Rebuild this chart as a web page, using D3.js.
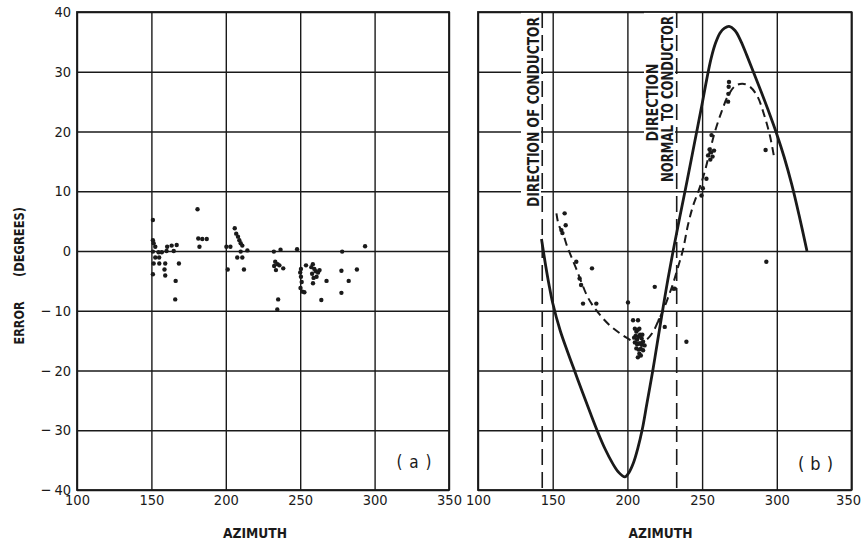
<!DOCTYPE html>
<html><head><meta charset="utf-8">
<script src="https://cdn.jsdelivr.net/npm/d3@7"></script>
<style>
html,body{margin:0;padding:0;background:#fff;}
svg{display:block;}
text{font-family:"DejaVu Sans Condensed","DejaVu Sans",sans-serif;fill:#1a1a1a;}
</style></head><body>
<svg id="chart" width="861" height="544"></svg>
<script>
// ---------- data ----------
const xTicks = [100, 150, 200, 250, 300, 350];
const yTicks = [-40, -30, -20, -10, 0, 10, 20, 30, 40];
const panelLabels = ["(a)", "(b)"];
const conductorAzimuths = [143, 233];   // direction of conductor, normal to conductor

// panel (a): measured errors [azimuth, error]
const pointsA = [
  [151, 5.2], [181, 7.0],
  [151, 1.8], [151.5, 1.3], [152.6, 0.7], [151, -0.1], [154.8, -0.2], [157, -0.2], [152.6, -1.1], [155.2, -1.1],
  [160.2, 0], [160.6, 0.7], [163.6, 0.9], [167, 1.0], [165, 0],
  [151.5, -2.1], [155.3, -2.1], [159.3, -2.1], [158.8, -3.1], [159.3, -4.1], [151, -3.9], [168.5, -2.1], [166.3, -5.0], [166, -8.1],
  [181.5, 2.1], [184.2, 2.0], [187.2, 2.0], [182.3, 0.7],
  [200.4, 0.7], [203.1, 0.7], [201.3, -3.1],
  [206, 3.8], [207, 2.9], [208.2, 2.4], [209.1, 1.8], [210, 1.3], [211.1, 0.9], [210, -0.1], [207.7, -1.1], [211.1, -1.1], [212.2, -3.1], [214.5, 0.1],
  [232.3, -0.1], [236.8, 0.2], [247.9, 0.3], [278.2, -0.1], [293.6, 0.8],
  [233.2, -1.8], [232.5, -2.5], [234.8, -2.2], [236, -2.4], [233.7, -3.2], [238.6, -2.9], [235.2, -8.1], [234.6, -9.8],
  [250, -3.6], [250.5, -4.3], [251, -5.2], [250.2, -6.2], [251.5, -6.8], [252.8, -6.9], [250.5, -3.0], [253.9, -2.4],
  [257.5, -2.7], [258.5, -2.2], [259.5, -3.0], [260.5, -3.4], [262, -3.6], [258, -3.8], [259, -4.5], [261, -4.3], [258.6, -5.4], [263, -3.2],
  [267.7, -5], [277.7, -3.3], [282.6, -5], [288.1, -3.1], [277.7, -7], [264.2, -8.2]
];

// panel (b): measured errors [azimuth, error]
const pointsB = [
  [158, 6.3], [158.7, 4.3], [155.8, 3.5], [156.5, 3.0], [165.8, -1.8], [176.3, -2.9], [168, -4.6], [169, -5.7],
  [170.3, -8.8], [179.2, -8.8], [200.4, -8.6], [218.3, -6], [203.8, -11.6], [207.1, -11.6], [230.6, -6.3],
  [221.6, -11.6], [225, -12.7], [239.5, -15.2], [231.7, -6.3],
  [205, -13], [206, -13.5], [207, -13.2], [205.5, -14.2], [206.5, -14.8], [207.5, -14.3], [208.5, -14], [209.5, -14.6],
  [205, -15.3], [206.5, -15.6], [208, -15.5], [209.5, -15.7], [210.5, -15.2], [211.5, -15.8], [206, -16.3], [207.5, -16.5],
  [209, -16.4], [210.5, -16.6], [208, -17.2], [209, -17.5], [207, -17.8], [204.5, -14.5], [208, -13], [210, -14],
  [292.5, 16.9], [293, -1.8], [256.3, 19.4], [254, 16], [255, 17], [256, 16.5], [257, 15.8], [258, 16.8], [255.5, 15.3],
  [252.9, 12.1], [249.6, 9.3], [250.5, 10.5], [267.4, 25], [267.6, 26.3], [267.8, 27.5], [268, 28.3]
];

// panel (b): theoretical error (solid)
const theoryCurve = [
  [142.5, 2], [145, -2], [147.5, -5.6], [150, -8.7], [155, -13.3], [160, -16.9], [165, -20.3], [170, -23.7],
  [175, -27], [180, -30.2], [185, -33.1], [190, -35.5], [194, -37], [198.3, -37.8], [201, -37.1], [204, -35.5],
  [207, -33], [210, -29.8], [213, -25.6], [217, -20], [220, -15.4], [224, -9.3], [227, -4.9], [230.6, 0],
  [235, 5.6], [240, 11.8], [245, 18.2], [250, 24.6], [253, 28.6], [256, 32.2], [259, 34.8], [262, 36.5],
  [265, 37.3], [268, 37.6], [272, 36.9], [276, 35.1], [280, 32.7], [285, 29.55], [290, 26.35], [295, 23.05],
  [300, 19.55], [305, 15.65], [310, 11.15], [315, 5.9], [320.2, 0]
];

// panel (b): mean observed error (dashed)
const observedCurve = [
  [152.5, 6.3], [154, 4.4], [157, 2.8], [159.5, 0.9], [162.5, -1], [166, -3.1], [169.5, -5.4], [173, -7.5],
  [177, -9.2], [182, -10.8], [188, -12.4], [194, -13.6], [200, -14.6], [206, -15.3], [212, -15],
  [217, -13.6], [220.5, -11.8], [224, -9.9], [227.5, -7.6], [230.5, -5.5], [234, -2.6], [237.2, 0.2],
  [240.5, 4.3], [244, 7.6], [248.4, 10.6], [251.8, 13.3], [255.1, 16.6], [258.5, 19.9], [263, 23.3],
  [267.4, 26], [272, 27.6], [277, 28], [282, 27.5], [287, 25.9], [291.5, 22.8], [295.3, 19.4], [298, 16]
];

// ---------- drawing ----------
const INK = "#1a1a1a";
const svg = d3.select("#chart");
const yTop = 12, yBot = 490;
const y = d3.scaleLinear().domain([-40, 40]).range([yBot, yTop]);
const xa = d3.scaleLinear().domain([100, 350]).range([77, 449]);
const xb = d3.scaleLinear().domain([100, 350]).range([478, 851.5]);
const FONT = '"DejaVu Sans Condensed","DejaVu Sans",sans-serif';

const yFmt = d => d < 0 ? "\u2212\u2009" + Math.abs(d) : String(d);

function grid(g, x, showY) {
  const w = x.range()[1] - x.range()[0];
  const ax = g.append("g").attr("transform", `translate(0,${yBot})`)
    .call(d3.axisBottom(x).tickValues(xTicks).tickSize(-(yBot - yTop)).tickPadding(5).tickFormat(d3.format("d")))
    .attr("font-family", FONT).attr("font-size", 14.5);
  ax.select(".domain").remove();
  ax.selectAll("line").attr("stroke", INK).attr("stroke-width", 1.4);
  ax.selectAll("text").attr("fill", INK);
  const ay = g.append("g").attr("transform", `translate(${x.range()[0]},0)`)
    .call(d3.axisLeft(y).tickValues(yTicks).tickSize(-w).tickPadding(6).tickFormat(yFmt))
    .attr("font-family", FONT).attr("font-size", 14.5);
  ay.select(".domain").remove();
  ay.selectAll("line").attr("stroke", INK).attr("stroke-width", 1.4);
  ay.selectAll("text").attr("fill", INK);
  if (!showY) ay.selectAll("text").remove();
  return ax;
}

function frame(g, x) {
  g.append("rect").attr("x", x.range()[0]).attr("y", yTop)
    .attr("width", x.range()[1] - x.range()[0]).attr("height", yBot - yTop)
    .attr("fill", "none").attr("stroke", INK).attr("stroke-width", 1.8);
}

function label(g, txt, cx, cy, len, size, rotate, stretch) {
  const s = stretch || 1;
  g.append("text")
    .attr("transform", `translate(${cx},${cy})` + (rotate ? " rotate(-90)" : "") + ` scale(1,${s})`)
    .attr("text-anchor", "middle").attr("dy", "0.36em")
    .attr("font-size", size).attr("font-weight", "bold")
    .attr("textLength", len).attr("lengthAdjust", "spacingAndGlyphs")
    .text(txt);
}

// ---- panel (a)
const ga = svg.append("g");
grid(ga, xa, true);
frame(ga, xa);
ga.append("g").selectAll("circle").data(pointsA).join("circle")
  .attr("cx", d => xa(d[0])).attr("cy", d => y(d[1])).attr("r", 2.2).attr("fill", INK);
label(ga, "AZIMUTH", 255, 533, 64, 14, false);
label(ga, "ERROR", 19, 323, 43, 13.5, true, 1.1);
label(ga, "(DEGREES)", 19, 242, 70, 13.5, true, 1.1);
ga.append("text").attr("x", 414).attr("y", 462).attr("dy", "0.36em")
  .attr("text-anchor", "middle").attr("font-size", 17)
  .attr("textLength", 35).attr("lengthAdjust", "spacing").text(panelLabels[0]);

// ---- panel (b)
const gb = svg.append("g");
const axb = grid(gb, xb, false);
// keep the last tick label inside the page edge
axb.selectAll(".tick text").filter(d => d === 350).attr("text-anchor", "end").attr("x", 9);
// white backing behind the rotated annotations
gb.append("rect").attr("x", 521).attr("y", yTop).attr("width", 20).attr("height", 198).attr("fill", "#fff");
gb.append("rect").attr("x", 644).attr("y", yTop).attr("width", 31).attr("height", 174).attr("fill", "#fff");
frame(gb, xb);
gb.append("g").selectAll("line").data(conductorAzimuths).join("line")
  .attr("x1", d => xb(d)).attr("x2", d => xb(d)).attr("y1", yTop).attr("y2", yBot)
  .attr("stroke", INK).attr("stroke-width", 1.6).attr("stroke-dasharray", "16,7");
label(gb, "DIRECTION OF CONDUCTOR", 533.5, 112, 190, 13, true, 1.25);
label(gb, "DIRECTION", 652.5, 102.5, 78, 13, true, 1.25);
label(gb, "NORMAL TO CONDUCTOR", 667.5, 99, 166, 13, true, 1.25);

const line = d3.line().x(d => xb(d[0])).y(d => y(d[1])).curve(d3.curveCatmullRom.alpha(0.5));
gb.append("path").datum(theoryCurve).attr("d", line)
  .attr("fill", "none").attr("stroke", INK).attr("stroke-width", 2.8).attr("stroke-linejoin", "round");
gb.append("path").datum(observedCurve).attr("d", line)
  .attr("fill", "none").attr("stroke", INK).attr("stroke-width", 2).attr("stroke-dasharray", "8,5");
gb.append("g").selectAll("circle").data(pointsB).join("circle")
  .attr("cx", d => xb(d[0])).attr("cy", d => y(d[1])).attr("r", 2.2).attr("fill", INK);
label(gb, "AZIMUTH", 660.5, 533, 64, 14, false);
gb.append("text").attr("x", 815.5).attr("y", 464).attr("dy", "0.36em")
  .attr("text-anchor", "middle").attr("font-size", 18)
  .attr("textLength", 35).attr("lengthAdjust", "spacing").text(panelLabels[1]);
</script>
</body></html>
